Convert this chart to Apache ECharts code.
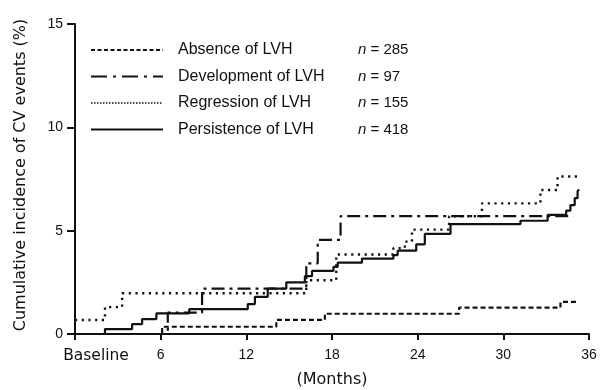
<!DOCTYPE html>
<html>
<head>
<meta charset="utf-8">
<script src="https://cdn.jsdelivr.net/npm/echarts@6/dist/echarts.min.js"></script>
<style>
  html, body { margin: 0; padding: 0; background: #ffffff; }
  #chart { width: 600px; height: 390px; }
</style>
</head>
<body>
<div id="chart"></div>
<script>
// Group labels and group sizes
const seriesNames = ['Absence of LVH', 'Development of LVH', 'Regression of LVH', 'Persistence of LVH'];
const groupSizes = [285, 97, 155, 418];

// Axis ticks
const xTicks = [0, 6, 12, 18, 24, 30, 36];
const yTicks = [0, 5, 10, 15];

// Kaplan–Meier style cumulative incidence (%): month of each step, level after the step
const absenceMonths = [0, 6.1, 14.1, 17.5, 26.9, 34.0, 35.2];
const absenceValues = [0, 0.35, 0.68, 0.98, 1.28, 1.55, 1.55];

const developmentMonths = [0, 6.5, 8.9, 16.2, 17.0, 18.6, 34.9];
const developmentValues = [0, 1.03, 2.2, 3.42, 4.55, 5.7, 5.7];

const regressionMonths = [0, 2.1, 3.3, 16.2, 18.3, 22.3, 23.1, 23.6, 26.2, 28.5, 32.6, 33.8, 35.2];
const regressionValues = [0.68, 1.3, 1.97, 2.6, 3.85, 4.15, 4.47, 5.05, 5.7, 6.32, 6.97, 7.62, 7.62];

const persistenceMonths = [0, 2.1, 4.0, 4.7, 5.7, 8.0, 12.1, 12.6, 13.5, 14.8, 16.1, 16.6, 18.1, 18.4,
  20.1, 22.3, 22.6, 23.9, 24.5, 26.3, 31.2, 33.1, 34.4, 34.7, 35.0, 35.2, 35.3];
const persistenceValues = [0, 0.24, 0.48, 0.72, 1.0, 1.2, 1.45, 1.8, 2.2, 2.5, 2.8, 3.05, 3.25, 3.45,
  3.65, 3.82, 4.03, 4.34, 4.84, 5.32, 5.48, 5.76, 5.97, 6.24, 6.57, 6.9, 7.0];

const ink = '#111111';
const pairs = (months, values) => months.map((m, i) => [m, values[i]]);

const lineStyles = [
  { type: [5, 3], width: 2.2 },          // dashed
  { type: [13, 5, 3, 5], width: 2.2 },   // dash-dot
  { type: [2.2, 4.5], width: 2.4 },      // dotted
  { type: 'solid', width: 2.2 }          // solid
];
const legendLineStyles = [
  { type: [4, 2.5], width: 2 },
  { type: [16, 6, 3, 6], width: 2 },
  { type: [1.5, 1.5], width: 1.5 },
  { type: 'solid', width: 2 }
];

const dataSets = [
  pairs(absenceMonths, absenceValues),
  pairs(developmentMonths, developmentValues),
  pairs(regressionMonths, regressionValues),
  pairs(persistenceMonths, persistenceValues)
];

const chart = echarts.init(document.getElementById('chart'), null, { renderer: 'canvas' });

chart.setOption({
  animation: false,
  backgroundColor: '#ffffff',
  grid: { left: 75, right: 11, top: 24, bottom: 56, outerBoundsMode: 'none', containLabel: false },
  legend: {
    orient: 'vertical',
    left: 90,
    top: 42,
    padding: 0,
    itemWidth: 72,
    itemHeight: 14,
    itemGap: 10.5,
    selectedMode: false,
    data: seriesNames.map((name, i) => ({
      name,
      itemStyle: { opacity: 0, borderWidth: 0 },
      lineStyle: Object.assign({ color: ink, opacity: 1 }, legendLineStyles[i])
    })),
    formatter: (name) => {
      const i = seriesNames.indexOf(name);
      return '{nm|' + name + '}{ni|n}{eq| = ' + groupSizes[i] + '}';
    },
    textStyle: {
      color: ink,
      rich: {
        nm: { width: 180, padding: [0, 0, 0, 10], fontFamily: 'Liberation Sans', fontSize: 16, lineHeight: 16, color: ink },
        ni: { fontFamily: 'Liberation Sans', fontStyle: 'italic', fontSize: 15, lineHeight: 16, color: ink },
        eq: { fontFamily: 'Liberation Sans', fontSize: 15, lineHeight: 16, color: ink }
      }
    }
  },
  xAxis: {
    type: 'value',
    min: xTicks[0],
    max: xTicks[xTicks.length - 1],
    interval: xTicks[1] - xTicks[0],
    name: '(Months)',
    nameLocation: 'middle',
    nameGap: 38,
    nameTextStyle: { fontFamily: 'DejaVu Sans', fontSize: 16, color: ink },
    axisLine: { show: true, lineStyle: { color: ink, width: 2 } },
    axisTick: { show: true, inside: false, length: 6, lineStyle: { color: ink, width: 2 } },
    splitLine: { show: false },
    axisLabel: {
      margin: 14,
      fontFamily: 'Liberation Sans',
      fontSize: 14,
      color: ink,
      formatter: (v) => (v === 0 ? '{b|Baseline}' : String(v)),
      rich: {
        b: { fontFamily: 'DejaVu Sans', fontSize: 15.5, color: ink, padding: [0, 0, 0, 42] }
      }
    }
  },
  yAxis: {
    type: 'value',
    min: yTicks[0],
    max: yTicks[yTicks.length - 1],
    interval: yTicks[1] - yTicks[0],
    name: 'Cumulative incidence of CV events (%)',
    nameLocation: 'middle',
    nameGap: 46,
    nameTextStyle: { fontFamily: 'DejaVu Sans', fontSize: 16, color: ink, padding: [0, 0, 0, 8] },
    axisLine: { show: true, lineStyle: { color: ink, width: 2 } },
    axisTick: { show: true, inside: false, length: 8, lineStyle: { color: ink, width: 2 } },
    splitLine: { show: false },
    axisLabel: { margin: 12, fontFamily: 'Liberation Sans', fontSize: 14, color: ink }
  },
  series: seriesNames.map((name, i) => ({
    name,
    type: 'line',
    step: 'end',
    symbol: 'none',
    data: dataSets[i],
    lineStyle: Object.assign({ color: ink }, lineStyles[i]),
    itemStyle: { color: ink },
    z: 2 + i
  }))
});
</script>
</body>
</html>
